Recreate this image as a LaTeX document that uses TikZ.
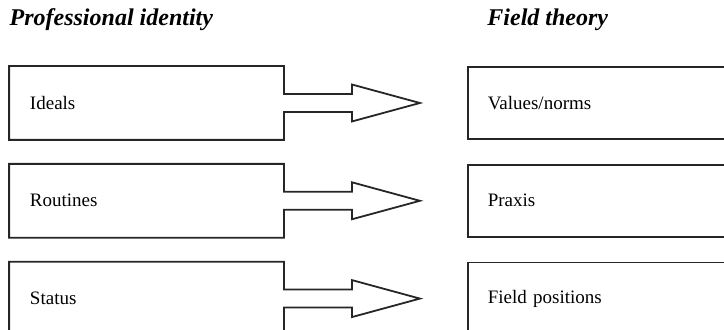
\documentclass[tikz,border=0pt]{standalone}
\usepackage{fontspec}
\setmainfont{Liberation Serif}
\usetikzlibrary{positioning,calc}

\begin{document}
\begin{tikzpicture}[font=\fontsize{9.5}{11}\selectfont,line width=0.9pt,
  box/.style={text width=116.5pt,inner xsep=10pt,minimum height=36pt,align=left},
  field/.style={box,draw=black!85},
  outline/.style={draw=black!85,line join=miter},
  head/.style={font=\fontsize{12}{14}\selectfont\bfseries\itshape,anchor=base west}]
  \useasboundingbox (0,0) rectangle (362pt,165pt);
  \clip (0,0) rectangle (362pt,165pt);
  % Professional identity column
  \node[box] (ideals) at (73.25pt,113.5pt) {Ideals};
  \node[box,below=12pt of ideals] (routines) {Routines};
  \node[box,below=12pt of routines] (status) {Status};
  % Field theory column
  \node[field,right=91.5pt of ideals] (values) {Values/norms};
  \node[field,right=91.5pt of routines] (praxis) {Praxis};
  \node[field,right=91.5pt of status] (positions) {Field positions};
  % column headings
  \node[head] (pid) at ($(ideals.north west)+(-3.5pt,20.5pt)$) {Professional identity};
  \node[head] (ft) at ($(values.north west)+(6.5pt,20.5pt)$) {Field theory};
  % box with the block arrow coming out of its right side
  \foreach \b in {ideals,routines,status} {
    \draw[outline] ($(\b.east)+(0,4.5pt)$) |- (\b.north west) |- (\b.south east)
      -- ($(\b.east)+(0,-4.5pt)$) -- ++(34pt,0) -- ++(0,-4.75pt)
      -- ($(\b.east)+(68pt,0)$) -- ($(\b.east)+(34pt,9.25pt)$) -- ++(0,-4.75pt) -- cycle;
  }
\end{tikzpicture}
\end{document}
